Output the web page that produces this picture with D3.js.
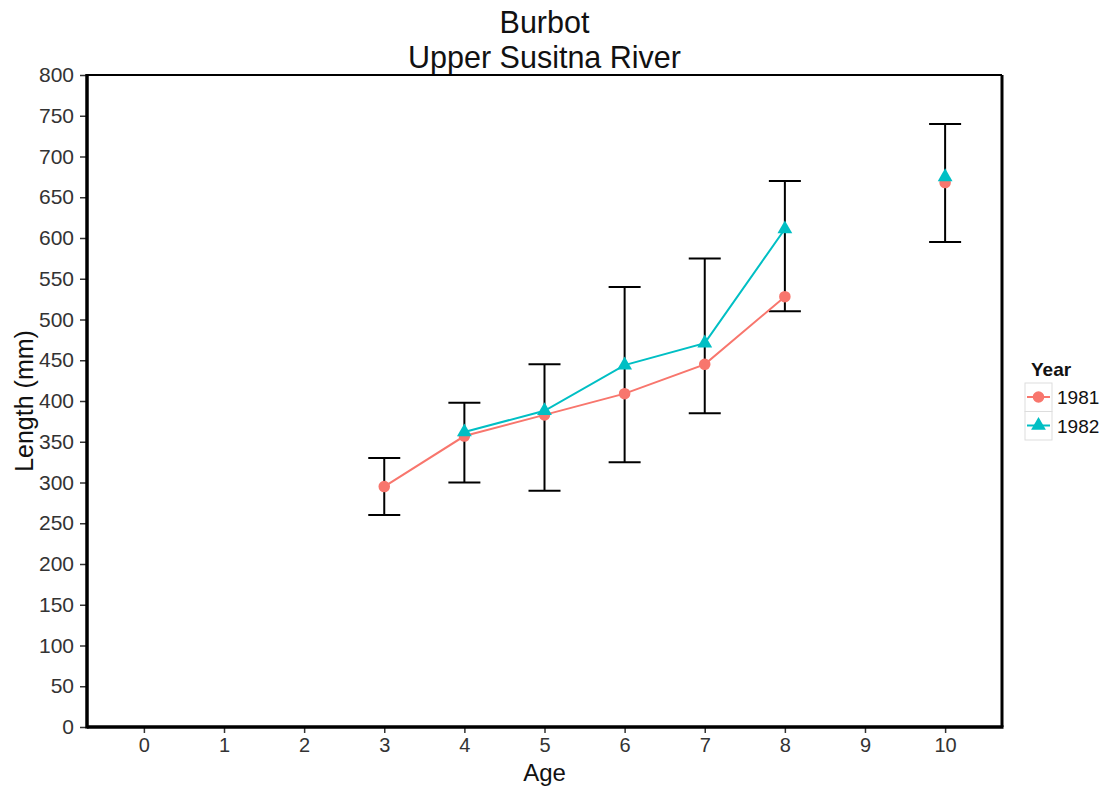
<!DOCTYPE html>
<html><head><meta charset="utf-8">
<script src="https://cdn.jsdelivr.net/npm/d3@7"></script>
<style>body{margin:0;background:#fff}svg{display:block;font-family:"Liberation Sans",Arial,sans-serif}</style>
</head><body>
<svg id="c" width="1111" height="789"></svg>
<script>
const ages = ["0","1","2","3","4","5","6","7","8","9","10"];
const yTicks = [0,50,100,150,200,250,300,350,400,450,500,550,600,650,700,750,800];
const years = ["1981","1982"];
const colors = ["#F8766D","#00BFC4"];
const ages1981 = ["3","4","5","6","7","8","10"];
const len1981 = [295,357,383,409,445,528,668];
const ages1982 = ["4","5","6","7","8","10"];
const len1982 = [362,388,444,471,611,675];
const barAges = ["3","4","5","6","7","8","10"];
const barLow = [260,300,290,325,385,510,595];
const barHigh = [330,398,445,540,575,670,740];

const svg = d3.select("#c");
const L=87,R=1002,T=75,B=727;
const FONT = "Liberation Sans, Arial, sans-serif";
const x = d3.scalePoint().domain(ages).range([L,R]).padding(0.71);
const y = d3.scaleLinear().domain([0,800]).range([B,T]);

// title
svg.append("text").attr("x",(L+R)/2).attr("y",33).attr("text-anchor","middle").attr("font-size",30.5).attr("fill","#111").text("Burbot");
svg.append("text").attr("x",(L+R)/2).attr("y",68).attr("text-anchor","middle").attr("font-size",30.5).attr("fill","#111").text("Upper Susitna River");

// panel border
svg.append("line").attr("x1",L).attr("x2",R).attr("y1",T).attr("y2",T).attr("stroke","#000").attr("stroke-width",2);
svg.append("line").attr("x1",R).attr("x2",R).attr("y1",T).attr("y2",B).attr("stroke","#000").attr("stroke-width",3);

// axes
const ya = svg.append("g").attr("transform",`translate(${L},0)`).call(d3.axisLeft(y).tickValues(yTicks).tickSize(7).tickPadding(6));
ya.select(".domain").remove();
ya.selectAll("text").attr("font-size",21).attr("fill","#333").attr("font-family",FONT);
ya.selectAll("line").attr("stroke","#333").attr("stroke-width",1.5);
const xa = svg.append("g").attr("transform",`translate(0,${B})`).call(d3.axisBottom(x).tickSize(6).tickPadding(5));
xa.select(".domain").remove();
xa.selectAll("text").attr("font-size",20).attr("fill","#333").attr("font-family",FONT);
xa.selectAll("line").attr("stroke","#333").attr("stroke-width",1.5);
svg.append("line").attr("x1",L).attr("x2",L).attr("y1",T-1).attr("y2",B+1.5).attr("stroke","#000").attr("stroke-width",3.5);
svg.append("line").attr("x1",L).attr("x2",R+1.5).attr("y1",B).attr("y2",B).attr("stroke","#000").attr("stroke-width",3.5);

// axis titles
svg.append("text").attr("x",(L+R)/2).attr("y",781).attr("text-anchor","middle").attr("font-size",24).attr("fill","#111").text("Age");
svg.append("text").attr("transform",`translate(33,${(T+B)/2}) rotate(-90)`).attr("text-anchor","middle").attr("font-size",25).attr("fill","#111").text("Length (mm)");

// error bars
const eb = svg.append("g").attr("stroke","#000").attr("stroke-width",2).attr("fill","none");
barAges.forEach((a,i)=>{
  const cx=x(a);
  eb.append("line").attr("x1",cx).attr("x2",cx).attr("y1",y(barLow[i])).attr("y2",y(barHigh[i]));
  eb.append("line").attr("x1",cx-16).attr("x2",cx+16).attr("y1",y(barLow[i])).attr("y2",y(barLow[i]));
  eb.append("line").attr("x1",cx-16).attr("x2",cx+16).attr("y1",y(barHigh[i])).attr("y2",y(barHigh[i]));
});

// lines (age 9 has no data, so the line stops at 8)
const series = [
  {ages:ages1981, vals:len1981, color:colors[0], shape:d3.symbolCircle},
  {ages:ages1982, vals:len1982, color:colors[1], shape:d3.symbolTriangle}
];
const line = d3.line().x(d=>x(d.a)).y(d=>y(d.v));
series.forEach(s=>{
  const pts = s.ages.map((a,i)=>({a,v:s.vals[i]}));
  svg.append("path").datum(pts.filter(d=>d.a!=="10")).attr("d",line).attr("fill","none").attr("stroke",s.color).attr("stroke-width",2);
});
series.forEach(s=>{
  s.ages.forEach((a,i)=>{
    svg.append("path").attr("d",d3.symbol().type(s.shape).size(s.shape===d3.symbolCircle?105:95)())
      .attr("transform",`translate(${x(a)},${y(s.vals[i])})`).attr("fill",s.color);
  });
});

// legend
svg.append("text").attr("x",1031).attr("y",376).attr("font-size",19).attr("font-weight","bold").attr("fill","#111").text("Year");
years.forEach((yr,i)=>{
  const ky = 383 + i*28.5;
  svg.append("rect").attr("x",1025).attr("y",ky).attr("width",27).attr("height",28.5).attr("fill","#fff").attr("stroke","#ddd").attr("stroke-width",1);
  svg.append("line").attr("x1",1027).attr("x2",1050).attr("y1",ky+14).attr("y2",ky+14).attr("stroke",colors[i]).attr("stroke-width",2);
  svg.append("path").attr("d",d3.symbol().type(i===0?d3.symbolCircle:d3.symbolTriangle).size(i===0?105:95)()).attr("transform",`translate(1038.5,${ky+14})`).attr("fill",colors[i]);
  svg.append("text").attr("x",1057).attr("y",ky+21).attr("font-size",19).attr("fill","#111").text(yr);
});
</script>
</body></html>
